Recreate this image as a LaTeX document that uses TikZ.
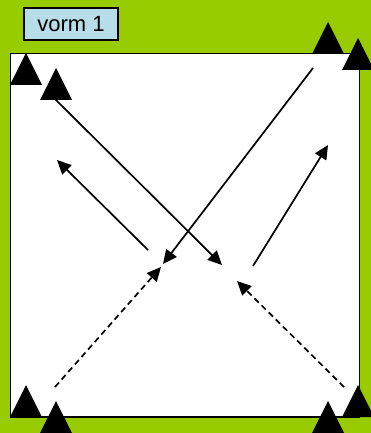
\documentclass[tikz,border=0pt]{standalone}
\usepackage{fontspec}
\setmainfont{Liberation Sans}
\usetikzlibrary{arrows.meta}
\definecolor{bggreen}{HTML}{99CC00}
\definecolor{labelblue}{HTML}{B7DDE8}
\begin{document}
\begin{tikzpicture}[x=1pt,y=-1pt,
  cone/.style={fill=black},
  runarrow/.style={line width=1.7pt,-{Triangle[length=14pt,width=13pt]}},
  dasharrow/.style={runarrow,dash pattern=on 6pt off 4pt}]
\useasboundingbox (0,0) rectangle (371,433);
\fill[bggreen] (0,0) rectangle (371,433);
\draw[line width=1.7pt,fill=white] (10.5,53.5) rectangle (359.5,417);
\node[draw=black,line width=1.3pt,fill=labelblue,minimum width=94pt,minimum height=32pt,inner sep=0pt,font=\fontsize{22pt}{22pt}\selectfont] (label) at (71,24) {vorm 1};
% cones
\def\cone#1#2{\fill[cone] (#1,#2) -- (#1-16,#2+32) -- (#1+16,#2+32) -- cycle;}
\cone{26}{53}
\cone{56}{68}
\cone{328}{22}
\cone{358}{38}
\cone{26}{385}
\cone{56}{401}
\cone{328}{401}
\cone{358}{385}
% arrow endpoints
\coordinate (a1) at (55,99);
\coordinate (a2) at (222,265);
\coordinate (b1) at (313,68);
\coordinate (b2) at (163,264);
\coordinate (c1) at (148,250);
\coordinate (c2) at (57,160);
\coordinate (d1) at (253,266);
\coordinate (d2) at (328,145);
\coordinate (e1) at (55,387);
\coordinate (e2) at (161,267);
\coordinate (f1) at (344,387);
\coordinate (f2) at (237,281);
\draw[runarrow] (a1) -- (a2);
\draw[runarrow] (b1) -- (b2);
\draw[runarrow] (c1) -- (c2);
\draw[runarrow] (d1) -- (d2);
\draw[dasharrow] (e1) -- (e2);
\draw[dasharrow] (f1) -- (f2);
\end{tikzpicture}
\end{document}
